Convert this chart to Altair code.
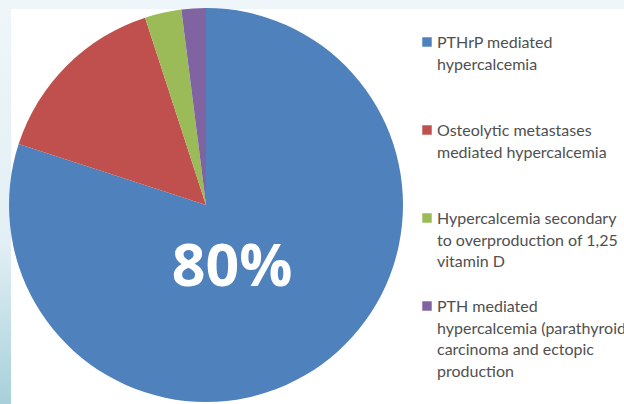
import altair as alt
import pandas as pd

categories = ["PTHrP mediated hypercalcemia",
              "Osteolytic metastases mediated hypercalcemia",
              "Hypercalcemia secondary to overproduction of 1,25 vitamin D",
              "PTH mediated hypercalcemia (parathyroid carcinoma and ectopic production"]
values = [80, 15, 3, 2]
legend_labels = ["PTHrP mediated\nhypercalcemia",
                 "Osteolytic metastases\nmediated hypercalcemia",
                 "Hypercalcemia secondary\nto overproduction of 1,25\nvitamin D",
                 "PTH mediated\nhypercalcemia (parathyroid\ncarcinoma and ectopic\nproduction"]
colors = ["#4F81BD", "#C0504D", "#9BBB59", "#8064A2"]
big_label = "80%"

df = pd.DataFrame({"category": categories, "value": values,
                   "label": legend_labels, "idx": list(range(len(categories)))})

color_scale = alt.Scale(domain=categories, range=colors)

bg_left = alt.Chart(pd.DataFrame({"a": [0]})).mark_rect(
    fill=alt.Gradient(gradient="linear", x1=0, y1=0, x2=0, y2=1,
                      stops=[alt.GradientStop(color="#eef6f9", offset=0),
                             alt.GradientStop(color="#e2eff4", offset=0.6),
                             alt.GradientStop(color="#a8d0da", offset=1)])
).encode(x=alt.value(0), x2=alt.value(624), y=alt.value(0), y2=alt.value(404))

bg_white = alt.Chart(pd.DataFrame({"a": [0]})).mark_rect(fill="white").encode(
    x=alt.value(11), x2=alt.value(624), y=alt.value(9), y2=alt.value(404))

pie = alt.Chart(df).mark_arc(outerRadius=197).encode(
    theta=alt.Theta("value:Q", stack=True),
    color=alt.Color("category:N", scale=color_scale, legend=None),
    order=alt.Order("idx:Q"),
    x=alt.value(206), y=alt.value(205))

big = alt.Chart(pd.DataFrame({"t": [big_label]})).mark_text(
    font="Open Sans", fontWeight="bold", fontSize=59, color="white",
    align="center", baseline="alphabetic").encode(
    text="t:N", x=alt.value(232), y=alt.value(286))

yscale = alt.Scale(domain=[0, 3], range=[42, 306])

leg_sym = alt.Chart(df).mark_square(size=90, opacity=1).encode(
    x=alt.value(427),
    y=alt.Y("idx:Q", scale=yscale, axis=None),
    color=alt.Color("category:N", scale=color_scale, legend=None))

leg_txt = alt.Chart(df).mark_text(
    font="Lato", fontSize=16, color="#505050", align="left",
    baseline="alphabetic", lineBreak="\n", lineHeight=21.5, dy=6).encode(
    x=alt.value(437),
    y=alt.Y("idx:Q", scale=yscale, axis=None),
    text="label:N")

chart = alt.layer(bg_left, bg_white, pie, big, leg_sym, leg_txt).properties(
    width=624, height=404, padding=0,
    autosize=alt.AutoSizeParams(type="none")
).configure_view(stroke=None)

chart.save("out.html", embed_options={"renderer": "svg", "actions": False})
